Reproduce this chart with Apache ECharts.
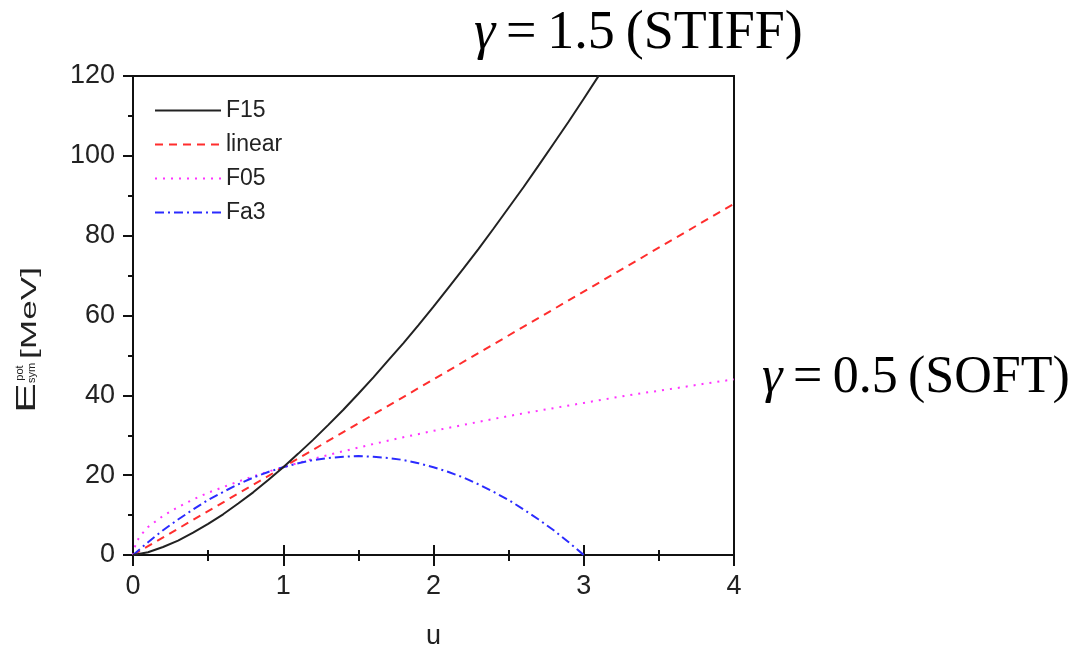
<!DOCTYPE html>
<html>
<head>
<meta charset="utf-8">
<script src="https://cdn.jsdelivr.net/npm/echarts@6/dist/echarts.min.js"></script>
<style>
  html, body { margin: 0; padding: 0; background: #fff; }
  #main { width: 1081px; height: 646px; }
</style>
</head>
<body>
<div id="main"></div>
<script>
// values
var xTicks = [0, 1, 2, 3, 4];
var yTicks = [0, 20, 40, 60, 80, 100, 120];

var uF15 = [0, 0.1, 0.2, 0.3, 0.4, 0.5, 0.6, 0.7, 0.8, 0.9, 1.0, 1.1, 1.2, 1.3, 1.4, 1.5, 1.6, 1.7, 1.8, 1.9, 2.0, 2.1, 2.2, 2.3, 2.4, 2.5, 2.6, 2.7, 2.8, 2.9, 3.0, 3.1];
var vF15 = [0, 0.7, 2.0, 3.6, 5.6, 7.8, 10.2, 12.9, 15.7, 18.8, 22.0, 25.4, 28.9, 32.6, 36.4, 40.4, 44.5, 48.8, 53.1, 57.6, 62.2, 67.0, 71.8, 76.7, 81.8, 87.0, 92.2, 97.6, 103.1, 108.6, 114.3, 120.1];

var uLinear = [0, 4];
var vLinear = [0, 88];

var uF05 = [0, 0.02, 0.05, 0.1, 0.2, 0.3, 0.4, 0.5, 0.6, 0.7, 0.8, 0.9, 1.0, 1.2, 1.4, 1.6, 1.8, 2.0, 2.2, 2.4, 2.6, 2.8, 3.0, 3.2, 3.4, 3.6, 3.8, 4.0];
var vF05 = [0, 3.1, 4.9, 7.0, 9.8, 12.0, 13.9, 15.6, 17.0, 18.4, 19.7, 20.9, 22.0, 24.1, 26.0, 27.8, 29.5, 31.1, 32.6, 34.1, 35.5, 36.8, 38.1, 39.4, 40.6, 41.7, 42.9, 44.0];

var uFa3 = [0, 0.1, 0.2, 0.3, 0.4, 0.5, 0.6, 0.7, 0.8, 0.9, 1.0, 1.1, 1.2, 1.3, 1.4, 1.5, 1.6, 1.7, 1.8, 1.9, 2.0, 2.1, 2.2, 2.3, 2.4, 2.5, 2.6, 2.7, 2.8, 2.9, 3.0];
var vFa3 = [0, 3.2, 6.2, 8.9, 11.4, 13.8, 15.8, 17.7, 19.4, 20.8, 22.0, 23.0, 23.8, 24.3, 24.6, 24.8, 24.6, 24.3, 23.8, 23.0, 22.0, 20.8, 19.4, 17.7, 15.8, 13.8, 11.4, 8.9, 6.2, 3.2, 0];

function pairs(xs, ys) {
  return xs.map(function (x, i) { return [x, ys[i]]; });
}

var chart = echarts.init(document.getElementById("main"));
var axisColor = "#111";
var font = "Liberation Sans, Arial, sans-serif";
var serif = "Liberation Serif, Times New Roman, serif";

var option = {
  animation: false,
  backgroundColor: "#fff",
  grid: {
    left: 133,
    right: 347,
    top: 76,
    bottom: 91,
    outerBoundsMode: "none",
    containLabel: false,
    show: true,
    borderColor: axisColor,
    borderWidth: 2
  },
  legend: {
    orient: "vertical",
    left: 149,
    top: 94,
    itemWidth: 66,
    itemHeight: 14,
    itemGap: 11,
    itemStyle: { opacity: 0 },
    textStyle: { fontFamily: font, fontSize: 23, color: "#222" },
    data: ["F15", "linear", "F05", "Fa3"]
  },
  xAxis: [
    {
      type: "value",
      min: 0,
      max: 4,
      interval: 1,
      name: "u",
      nameLocation: "middle",
      nameGap: 68,
      nameTextStyle: { fontFamily: font, fontSize: 27, color: "#222" },
      axisLine: { lineStyle: { color: axisColor, width: 2 } },
      axisTick: { length: 11, lineStyle: { color: axisColor, width: 2 } },
      minorTick: { show: true, splitNumber: 2, length: 6, lineStyle: { color: axisColor, width: 2 } },
      axisLabel: {
        fontFamily: font, fontSize: 27, color: "#222", margin: 18,
        formatter: function (v) { return xTicks.indexOf(v) >= 0 ? String(v) : ""; }
      },
      splitLine: { show: false }
    },
    {
      type: "value",
      min: 0,
      max: 4,
      interval: 1,
      position: "bottom",
      axisLine: { show: false },
      axisTick: { inside: true, length: 10, lineStyle: { color: axisColor, width: 2 } },
      minorTick: { show: true, splitNumber: 2, length: 5, lineStyle: { color: axisColor, width: 2 } },
      axisLabel: { show: false },
      splitLine: { show: false }
    }
  ],
  yAxis: {
    type: "value",
    min: 0,
    max: 120,
    interval: 20,
    axisLine: { show: true, lineStyle: { color: axisColor, width: 2 } },
    axisTick: { show: true, length: 10, lineStyle: { color: axisColor, width: 2 } },
    minorTick: { show: true, splitNumber: 2, length: 5, lineStyle: { color: axisColor, width: 2 } },
    axisLabel: {
      fontFamily: font, fontSize: 27, color: "#222", margin: 18,
      formatter: function (v) { return yTicks.indexOf(v) >= 0 ? String(v) : ""; }
    },
    splitLine: { show: false }
  },
  graphic: [
    // y axis title, stretched like the original
    { type: "text", x: 27, y: 398, rotation: Math.PI / 2, scaleX: 1.6,
      style: { text: "E", font: "28px " + font, fill: "#222", align: "center", verticalAlign: "middle" } },
    { type: "text", x: 20, y: 373, rotation: Math.PI / 2,
      style: { text: "pot", font: "11px " + font, fill: "#222", align: "center", verticalAlign: "middle" } },
    { type: "text", x: 32, y: 373, rotation: Math.PI / 2,
      style: { text: "sym", font: "11px " + font, fill: "#222", align: "center", verticalAlign: "middle" } },
    { type: "text", x: 30, y: 313, rotation: Math.PI / 2, scaleX: 1.6,
      style: { text: "[MeV]", font: "22px " + font, fill: "#222", align: "center", verticalAlign: "middle" } },
    // annotations
    { type: "text", x: 474, y: 34,
      style: {
        text: "{g|γ}\u2009=\u20091.5\u2009(STIFF)", font: "54px " + serif, fill: "#000",
        align: "left", verticalAlign: "middle",
        rich: { g: { fontStyle: "italic", fontFamily: serif, fontSize: 54 } }
      } },
    { type: "text", x: 762, y: 378,
      style: {
        text: "{g|γ}\u2009=\u20090.5\u2009(SOFT)", font: "52px " + serif, fill: "#000",
        align: "left", verticalAlign: "middle",
        rich: { g: { fontStyle: "italic", fontFamily: serif, fontSize: 52 } }
      } }
  ],
  series: [
    {
      name: "F15", type: "line", showSymbol: false, symbol: "none",
      lineStyle: { color: "#222", width: 2, type: "solid" },
      itemStyle: { color: "#222" },
      data: pairs(uF15, vF15), z: 5
    },
    {
      name: "linear", type: "line", showSymbol: false, symbol: "none",
      lineStyle: { color: "#ff2d2d", width: 2, type: [8, 6] },
      itemStyle: { color: "#ff2d2d" },
      data: pairs(uLinear, vLinear), z: 4
    },
    {
      name: "F05", type: "line", showSymbol: false, symbol: "none",
      lineStyle: { color: "#ff33ff", width: 2, type: [2, 6] },
      itemStyle: { color: "#ff33ff" },
      data: pairs(uF05, vF05), z: 3
    },
    {
      name: "Fa3", type: "line", showSymbol: false, symbol: "none",
      lineStyle: { color: "#2b2bff", width: 2, type: [9, 4, 2, 4] },
      itemStyle: { color: "#2b2bff" },
      data: pairs(uFa3, vFa3), z: 4
    }
  ]
};
chart.setOption(option);
</script>
</body>
</html>
